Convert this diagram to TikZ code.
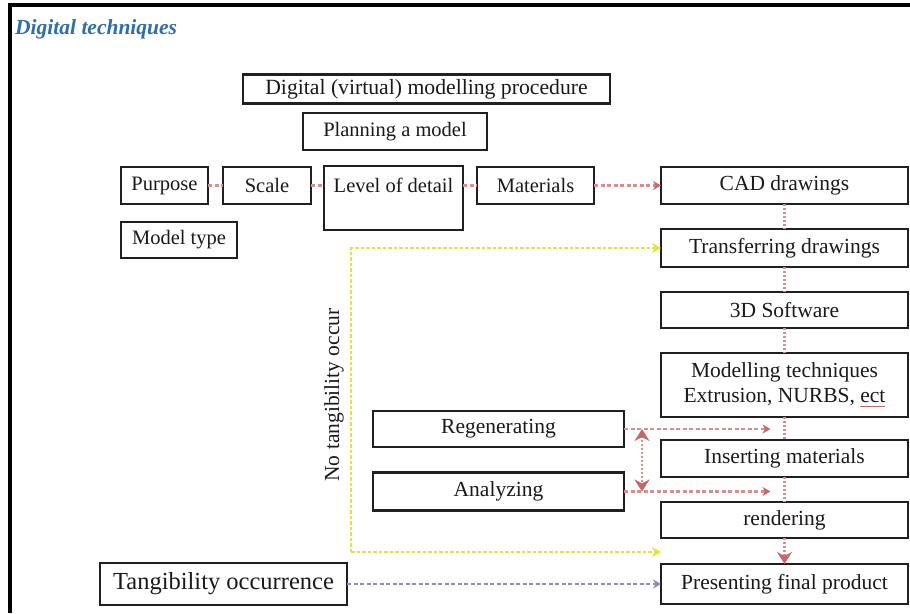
\documentclass[tikz,border=0pt]{standalone}
\usepackage{fontspec}
\setmainfont{Liberation Serif}
\usetikzlibrary{arrows.meta,calc,positioning}
\definecolor{diagramText}{HTML}{1A1A1A}
\definecolor{boxBorder}{HTML}{202020}
\definecolor{titleBlue}{HTML}{2F6EA6}
\definecolor{flowRed}{HTML}{D68E8E}
\definecolor{flowRedHead}{HTML}{C66868}
\definecolor{skipYellow}{HTML}{DDE63E}
\definecolor{tangPurple}{HTML}{8C8CB6}
\newcommand{\boxfont}{\fontsize{20.5}{24}\selectfont}
\newcommand{\stepfont}{\fontsize{21.5}{25}\selectfont}
\newsavebox{\spellbox}
\newcommand{\spellmark}[1]{\sbox{\spellbox}{#1}%
  \rlap{\textcolor{flowRedHead}{\rule[-4pt]{\wd\spellbox}{1.3pt}}}\usebox{\spellbox}}

\begin{document}
\begin{tikzpicture}[
  x=1pt, y=-1pt,
  >=Stealth,
  box/.style={
    draw=boxBorder,
    fill=white,
    text=diagramText,
    line width=2.5pt,
    inner sep=2pt,
    outer sep=0pt,
    minimum height=37pt,
    font=\boxfont
  },
  stepbox/.style={box, font=\stepfont, minimum width=247pt},
  link/.style={draw=flowRed, line width=2.2pt, dash pattern=on 4pt off 2.5pt},
  flow/.style={link, -{Stealth[length=8pt, width=9pt, flowRedHead]}},
  chain/.style={draw=flowRed, line width=2.4pt, dash pattern=on 2pt off 2pt},
  bighead/.style={-{Stealth[length=12pt, width=15pt, flowRedHead]}},
  cycle/.style={chain, {Stealth[length=12pt, width=15pt, flowRedHead]}-{Stealth[length=12pt, width=15pt, flowRedHead]}},
  skip/.style={draw=skipYellow, line width=2.6pt, dash pattern=on 3.5pt off 2pt},
  tangible/.style={draw=tangPurple, line width=2.2pt, dash pattern=on 4pt off 2.5pt,
    -{Stealth[length=8pt, width=9pt, tangPurple]}}
]
\useasboundingbox[fill=white] (0,0) rectangle (910,613);

% frame edges
\draw[line width=4pt, black] (910,5) -- (10,5) -- (10,613);

\node[anchor=base west, inner sep=0, text=titleBlue,
      font=\fontsize{21.5}{25}\selectfont\bfseries\itshape] (title) at (15,34) {Digital techniques};

% planning stage
\node[box, minimum width=367pt, minimum height=29pt,
      font=\fontsize{21.7}{25}\selectfont] (procedure) at (426.5,89) {Digital (virtual) modelling procedure};
\node[box, minimum width=184pt] (planning) at (395,131.5) {Planning a model};
\node[box, minimum width=87pt] (purpose) at (164.5,185.5) {Purpose};
\node[box, minimum width=88pt] (scale) at (267,185.5) {Scale};
\node[box, minimum width=139pt, minimum height=64pt,
      text height=19pt, text depth=31pt, inner ysep=7pt] (detail) at (393.5,198) {Level of detail};
\node[box, minimum width=117pt] (materials) at (535.5,185.5) {Materials};
\node[box, minimum width=116pt, minimum height=36pt] (modeltype) at (179,240) {Model type};

% modelling steps
\node[stepbox] (cad) at (784.5,185.5) {CAD drawings};
\node[stepbox, below=25pt of cad, minimum height=38pt] (transfer) {Transferring drawings};
\node[stepbox, below=25pt of transfer, minimum height=36pt] (software) {3D Software};
\node[stepbox, below=25pt of software, minimum height=64pt, align=center] (techniques)
  {Modelling techniques\\Extrusion, NURBS, \spellmark{ect}};
\node[stepbox, below=23pt of techniques] (inserting) {Inserting materials};
\node[stepbox, below=25pt of inserting, minimum height=36pt] (rendering) {rendering};
\node[stepbox, below=26pt of rendering, minimum height=40pt] (presenting) {Presenting final product};

% feedback loop
\node[box, font=\stepfont, minimum width=251pt, minimum height=36pt] (regenerating) at (498.5,429) {Regenerating};
\node[box, font=\stepfont, minimum width=251pt, minimum height=38pt] (analyzing) at (498.5,491.5) {Analyzing};

\node[box, minimum width=247pt, minimum height=42pt,
      font=\fontsize{24.5}{28}\selectfont] (tangibility) at (223.5,584) {Tangibility occurrence};
\node[rotate=90, font=\stepfont, text=diagramText] (notangible) at (334,395) {No tangibility occur};

% links along the planning row
\draw[link] (purpose) -- (scale);
\draw[link] (scale.east) -- (scale.east -| detail.west);
\draw[link] (materials.west -| detail.east) -- (materials.west);
\draw[flow] (materials) -- (cad);

% vertical chain of steps
\foreach \a/\b in {cad/transfer, transfer/software, software/techniques,
                   techniques/inserting, inserting/rendering}
  \draw[chain] (\a) -- (\b);
\draw[chain, bighead] (rendering) -- (presenting);

\coordinate (regen-in) at ($(regenerating.east -| techniques.south)+(-14,0)$);
\coordinate (analyze-in) at ($(analyzing.east -| techniques.south)+(-14,0)$);
\draw[flow] (regenerating.east) -- (regen-in);
\draw[flow] (analyzing.east) -- (analyze-in);
\draw[cycle] ($(regenerating.east)+(18,0)$) -- ($(analyzing.east)+(18,0)$);

% skipping the physical model
\coordinate (skip-corner) at (351,552);
\draw[skip, -{Stealth[length=9pt, width=10pt, skipYellow]}]
  (skip-corner) -- (skip-corner |- transfer.west) -- (transfer.west);
\draw[skip, -{Stealth[length=9pt, width=10pt, skipYellow]}]
  (skip-corner) -- (skip-corner -| presenting.west);

\draw[tangible] (tangibility.east) -- (tangibility.east -| presenting.west);

\end{tikzpicture}
\end{document}
